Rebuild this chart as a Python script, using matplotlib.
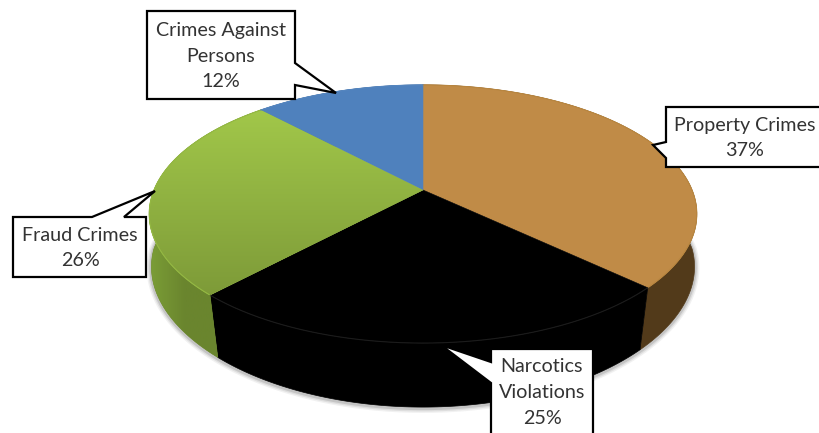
import numpy as np
import matplotlib
matplotlib.use('Agg')
import matplotlib.pyplot as plt
from matplotlib.patches import Polygon
from matplotlib.colors import LinearSegmentedColormap

# ==============================
# Data, clockwise from 12 o'clock
# ==============================
categories = ['Property Crimes', 'Narcotics\nViolations', 'Fraud Crimes', 'Crimes Against\nPersons']
shares = [37, 25, 26, 12]
top_colors = ['#c08b47', '#000000', '#94b843', '#4f81bd']
side_colors = ['#523a1a', '#000000', '#6f8c30', '#2f4f78']
rim_colors = ['#b9863f', '#1c1c1c', '#94b843', '#5586c0']

# callout boxes in pixels: left, top, right, bottom, text centre, pointer (near, tip, far)
callouts = [
    (666, 107, 830, 167, (745, 138), [(666, 142), (653, 145), (666, 158)]),
    (491, 349, 593, 445, (542, 392.5), [(491, 362), (441, 345), (491, 383)]),
    (13, 217, 146, 277, (80, 248), [(92, 217), (155, 191), (124, 217)]),
    (147, 11, 295, 99, (221, 56), [(295, 63), (336, 93), (295, 85)]),
]

plt.rcParams['font.family'] = ['Lato', 'DejaVu Sans']

# pie projection (pixels)
cx, cy = 423, 190
rx, ry, persp = 269, 124.6, 0.186
depth, y_scale, x_taper = 58.5, 1.036, 0.05


def project(theta):
    # circle seen in perspective, theta clockwise from the top
    x, y = np.sin(theta), np.cos(theta)
    w = 1 + persp * y
    return cx + rx * x / w, cy - ry * y / w


def project_low(theta):
    # lower rim of the wall, pulled in towards the front
    x, y = project(theta)
    s = 1 + x_taper * np.minimum(np.cos(theta), 0)
    return cx + s * (x - cx), cy + depth + y_scale * (y - cy)


fig = plt.figure(figsize=(8.19, 4.33), dpi=100)
ax = fig.add_axes([0, 0, 1, 1])
ax.axis('off')

edges = np.radians(np.concatenate([[0], np.cumsum(shares)]) * 3.6)

# soft shadow under the body
t_front = np.linspace(np.radians(80), np.radians(280), 200)
sx, sy = project_low(t_front)
for lw, a in [(7, 0.07), (5, 0.10), (3, 0.16)]:
    ax.plot(sx, sy + 1, color='#404040', lw=lw, alpha=a, zorder=1, solid_capstyle='round')

# side walls
for i in range(len(shares)):
    t = np.linspace(edges[i], edges[i + 1], 150)
    xt, yt = project(t)
    xb, yb = project_low(t)
    pts = np.column_stack([np.r_[xt, xb[::-1]], np.r_[yt, yb[::-1]]])
    ax.add_patch(Polygon(pts, closed=True, fc=side_colors[i], ec=side_colors[i], lw=0.5, zorder=2))
    if categories[i] == 'Fraud Crimes':
        cmap = LinearSegmentedColormap.from_list('g', ['#7c9f37', '#6a852e', '#6a852e', '#7c9f37'])
        im = ax.imshow(np.linspace(0, 1, 100)[None, :], cmap=cmap, aspect='auto',
                       extent=[xt.min() - 2, xb.max(), 433, 0], zorder=2.1)
        im.set_clip_path(Polygon(pts, closed=True, transform=ax.transData))

# top faces
for i in range(len(shares)):
    t = np.linspace(edges[i], edges[i + 1], 150)
    xt, yt = project(t)
    pts = np.column_stack([np.r_[cx, xt], np.r_[cy, yt]])
    ax.add_patch(Polygon(pts, closed=True, fc=top_colors[i], ec=top_colors[i], lw=0.4, zorder=3))
    if categories[i] == 'Fraud Crimes':
        cmap = LinearSegmentedColormap.from_list('gt', ['#a2c84a', '#7d9a38'])
        im = ax.imshow(np.linspace(0, 1, 100)[:, None], cmap=cmap, aspect='auto',
                       extent=[100, 430, yt.max() + 4, yt.min() - 4], zorder=3.1)
        im.set_clip_path(Polygon(pts, closed=True, transform=ax.transData))
    ax.plot(xt, yt, color=rim_colors[i], lw=0.8, zorder=3.2)

# callouts
for i, (l, t, r, b, centre, ptr) in enumerate(callouts):
    if ptr[0][0] == l:      # pointer on the left edge
        outline = [(l, t), *ptr, (l, b), (r, b), (r, t)]
    elif ptr[0][0] == r:    # pointer on the right edge
        outline = [(l, t), (r, t), *ptr, (r, b), (l, b)]
    else:                   # pointer on the top edge
        outline = [(l, t), *ptr, (r, t), (r, b), (l, b)]
    ax.add_patch(Polygon(outline, closed=True, fc='white', ec='black', lw=1.6, zorder=5,
                         joinstyle='miter'))
    ax.text(centre[0], centre[1], f'{categories[i]}\n{shares[i]}%', ha='center', va='center',
            fontsize=14.2, color='#333333', linespacing=1.62, zorder=6)

ax.set_xlim(0, 819)
ax.set_ylim(433, 0)

fig.savefig('out.png', dpi=100)
